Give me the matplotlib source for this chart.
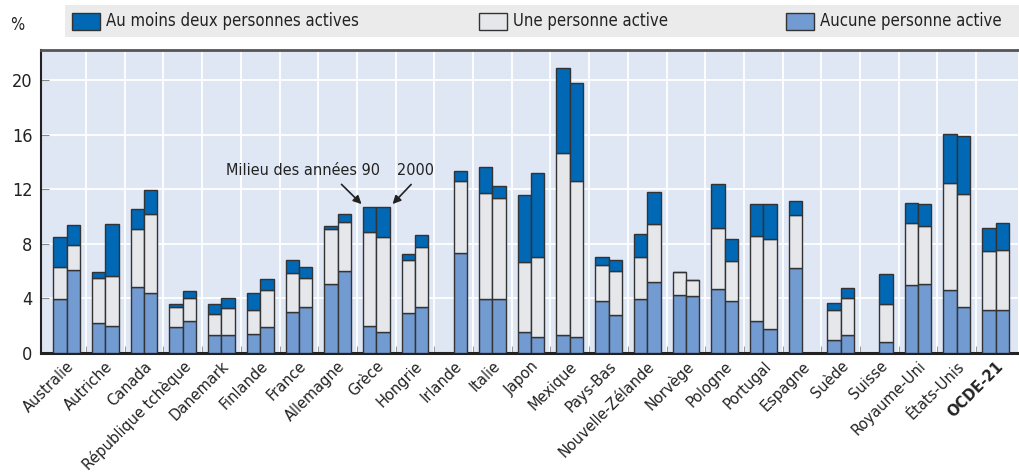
import numpy as np
import matplotlib
matplotlib.use('Agg')
import matplotlib.pyplot as plt
from matplotlib.patches import Rectangle

plt.rcParams['font.family'] = ['DejaVu Sans']
plt.rcParams['font.stretch'] = 'condensed'

countries = ['Australie', 'Autriche', 'Canada', 'République tchèque', 'Danemark',
             'Finlande', 'France', 'Allemagne', 'Grèce', 'Hongrie', 'Irlande',
             'Italie', 'Japon', 'Mexique', 'Pays-Bas', 'Nouvelle-Zélande',
             'Norvège', 'Pologne', 'Portugal', 'Espagne', 'Suède', 'Suisse',
             'Royaume-Uni', 'États-Unis', 'OCDE-21']

nan = np.nan
# Milieu des années 90
none_90 = [3.95, 2.22, 4.84, 1.88, 1.29, 1.39, 3.03, 5.05, 2.00, 2.91, nan, 3.96, 1.54,
           1.29, 3.81, 3.96, 4.27, 4.71, 2.34, 6.20, 0.95, nan, 4.96, 4.62, 3.15]
one_90 = [2.37, 3.30, 4.22, 1.49, 1.59, 1.76, 2.83, 4.01, 6.84, 3.88, nan, 7.74, 5.13,
          13.36, 2.64, 3.05, 1.64, 4.47, 6.26, 3.89, 2.20, nan, 4.56, 7.86, 4.32]
two_90 = [2.20, 0.39, 1.49, 0.24, 0.73, 1.27, 0.93, 0.27, 1.88, 0.44, nan, 1.95, 4.93,
          6.21, 0.56, 1.73, 0.0, 3.20, 2.32, 1.02, 0.54, nan, 1.49, 3.56, 1.71]
# 2000
none_00 = [6.10, 2.00, 4.40, 2.34, 1.29, 1.90, 3.37, 6.01, 1.54, 3.37, 7.35, 3.96, 1.19,
           1.19, 2.78, 5.18, 4.18, 3.83, 1.78, nan, 1.32, 0.83, 5.05, 3.37, 3.15]
one_00 = [1.80, 3.64, 5.81, 1.69, 1.98, 2.72, 2.15, 3.59, 6.98, 4.42, 5.23, 7.40, 5.82,
          11.43, 3.23, 4.25, 1.14, 2.93, 6.60, nan, 2.71, 2.76, 4.25, 8.30, 4.42]
two_00 = [1.50, 3.79, 1.73, 0.51, 0.78, 0.80, 0.80, 0.61, 2.20, 0.85, 0.73, 0.90, 6.15,
          7.18, 0.78, 2.39, 0.0, 1.62, 2.54, nan, 0.71, 2.17, 1.62, 4.25, 1.95]

c_two = '#0068b4'
c_one = '#e6e7ea'
c_none = '#729bd2'
edge = '#333333'
bg = '#dfe6f4'
txt = '#222222'

fig = plt.figure(figsize=(10.19, 4.72), dpi=100)
ax = fig.add_axes([0.040, 0.252, 0.959, 0.642])
ax.set_facecolor(bg)

x = np.arange(len(countries))
w = 0.345


def stack(xpos, none, one, two):
    none = np.array(none)
    one = np.array(one)
    two = np.array(two)
    ok = ~np.isnan(none)
    xs = xpos[ok]
    ax.bar(xs, none[ok], w, color=c_none, edgecolor=edge, linewidth=1, zorder=3)
    ax.bar(xs, one[ok], w, bottom=none[ok], color=c_one, edgecolor=edge, linewidth=1, zorder=3)
    ax.bar(xs, two[ok], w, bottom=none[ok] + one[ok], color=c_two, edgecolor=edge,
           linewidth=1, zorder=3)


stack(x - w / 2, none_90, one_90, two_90)
stack(x + w / 2, none_00, one_00, two_00)

ax.set_xlim(-0.67, 24.58)
ax.set_ylim(0, 22.2)
ax.set_yticks([0, 4, 8, 12, 16, 20])
ax.set_xticks(x)
ax.set_xticklabels(countries, rotation=45, ha='right', rotation_mode='anchor',
                   fontsize=11.7, color=txt)
ax.get_xticklabels()[-1].set_fontweight('bold')
ax.set_xticks(np.arange(0.5, len(countries) - 0.5, 1), minor=True)
ax.tick_params(axis='x', which='major', length=0, pad=4)
ax.tick_params(axis='x', which='minor', length=5, direction='in', color='#888888')
ax.tick_params(axis='y', labelsize=13, length=6, direction='in', color='#888888', pad=6,
               labelcolor=txt)

ax.grid(True, axis='y', color='white', linewidth=1.3, zorder=0)
ax.grid(True, axis='x', which='minor', color='white', linewidth=1.3, zorder=0)
ax.set_axisbelow(True)

for s in ['top', 'right']:
    ax.spines[s].set_visible(False)
ax.spines['left'].set_color('#222222')
ax.spines['left'].set_linewidth(1.5)
ax.spines['bottom'].set_color('#222222')
ax.spines['bottom'].set_linewidth(2.2)
ax.axhline(22.2, color='#555555', linewidth=2, clip_on=False, zorder=5)

# annotation
ax.text(8.10, 13.4, 'Milieu des années 90', ha='right', va='center', fontsize=11.6, color=txt)
ax.text(8.53, 13.4, '2000', ha='left', va='center', fontsize=11.6, color=txt)
ax.annotate('', xy=(7.67, 10.77), xytext=(7.05, 12.5),
            arrowprops=dict(arrowstyle='-|>', color=txt, lw=1.2, mutation_scale=12))
ax.annotate('', xy=(8.37, 10.77), xytext=(8.95, 12.5),
            arrowprops=dict(arrowstyle='-|>', color=txt, lw=1.2, mutation_scale=12))

# legend band
fig.add_artist(Rectangle((65 / 1019, 1 - 37 / 472), 954 / 1019, 32 / 472,
                         transform=fig.transFigure, facecolor='#ebebeb', edgecolor='none'))
fig.text(10 / 1019, 1 - 25 / 472, '%', fontsize=12, va='center', ha='left', color=txt)
legend_items = [('Au moins deux personnes actives', c_two, 72),
                ('Une personne active', c_one, 479),
                ('Aucune personne active', c_none, 786)]
for label, col, px in legend_items:
    fig.add_artist(Rectangle((px / 1019, 1 - 30 / 472), 28 / 1019, 17 / 472,
                             transform=fig.transFigure, facecolor=col,
                             edgecolor=edge, linewidth=1))
    fig.text((px + 34) / 1019, 1 - 21 / 472, label, fontsize=12, va='center', ha='left',
             color=txt)

fig.savefig('out.png', dpi=100)
